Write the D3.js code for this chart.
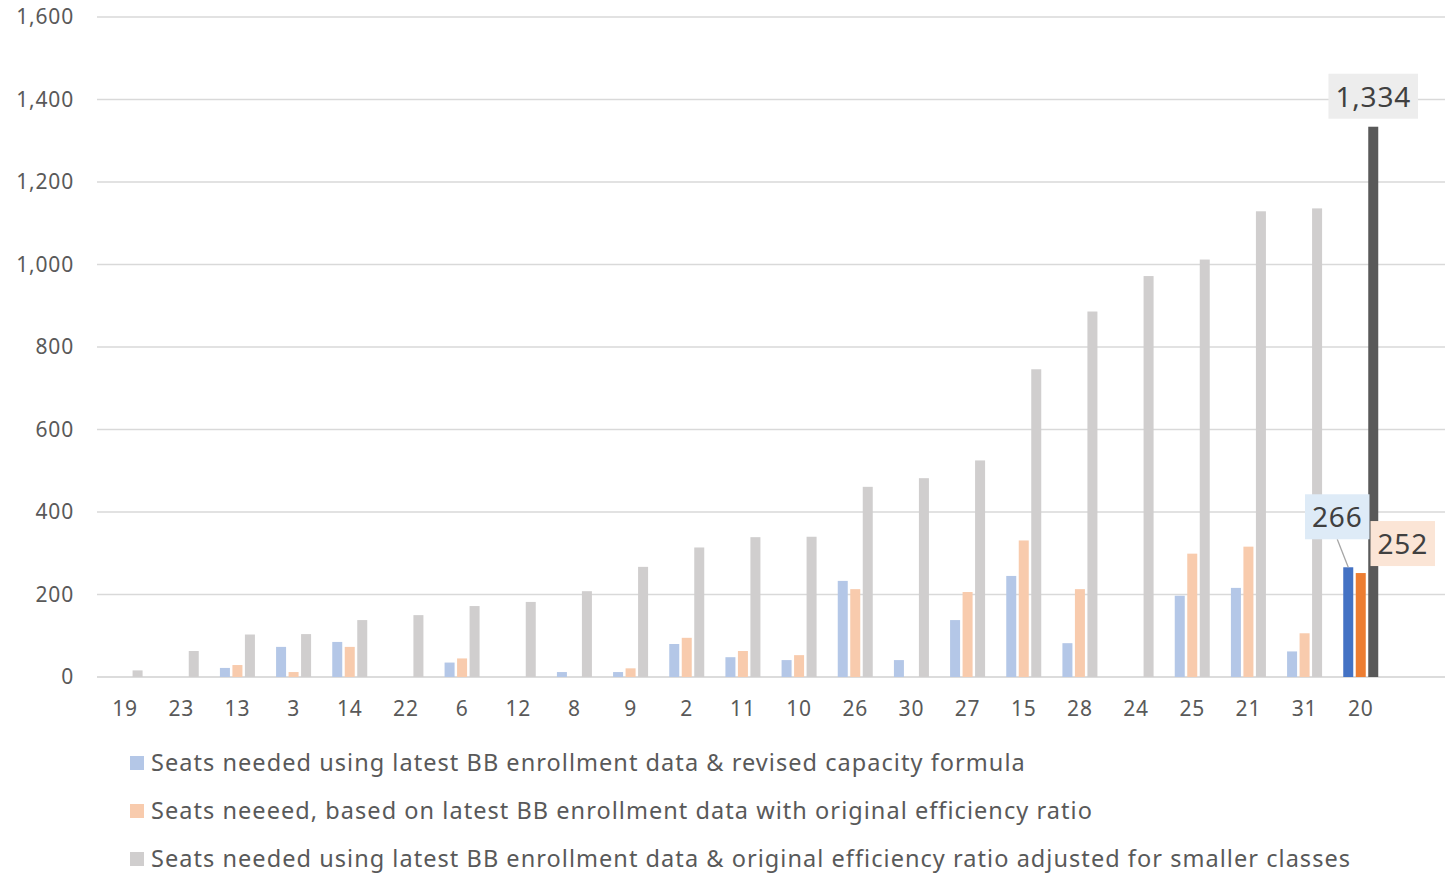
<!DOCTYPE html>
<html><head><meta charset="utf-8">
<script src="https://cdn.jsdelivr.net/npm/d3@7"></script>
<style>body{margin:0;background:#fff;} svg{display:block;}</style>
</head><body>
<script>
const categories = ["19","23","13","3","14","22","6","12","8","9","2","11","10","26","30","27","15","28","24","25","21","31","20",""];
const revised   = [0,0,22,73,85,0,35,0,12,12,80,48,41,233,41,138,245,82,0,197,216,62,266,null];
const original  = [0,0,29,12,73,0,45,0,0,21,95,63,53,213,0,206,331,213,0,299,316,106,252,null];
const adjusted  = [16,63,103,104,138,150,172,182,208,267,314,339,340,461,482,525,746,886,972,1012,1129,1136,1334,null];
const seriesNames = [
  "Seats needed using latest BB enrollment data & revised capacity formula",
  "Seats neeeed, based on latest BB enrollment data with original efficiency ratio",
  "Seats needed using latest BB enrollment data & original efficiency ratio adjusted for smaller classes"
];
const yTicks = [0,200,400,600,800,1000,1200,1400,1600];
const highlightCategory = "20";

const lightColors = ["#B4C7E7","#F8CBAD","#D0CECE"];
const darkColors  = ["#4472C4","#ED7D31","#595959"];
const labelBg     = ["#DEEBF7","#FBE5D6","#EDEDED"];
const FONT = "'Noto Sans', 'Open Sans', sans-serif";

const W = 1455, H = 873;
const svg = d3.select("body").append("svg").attr("width", W).attr("height", H);
const pL = 97, pR = 1445, pT = 17, pB = 677;

const x = d3.scaleBand().domain(categories).range([pL, pR]).padding(0);
const xs = d3.scaleBand().domain([0,1,2]).range([-17.5, 17.5]).paddingInner(0.2).paddingOuter(0);
const y = d3.scaleLinear().domain([0,1600]).range([pB, pT]);

// gridlines
svg.append("g").selectAll("line").data(yTicks).join("line")
  .attr("x1", pL).attr("x2", pR)
  .attr("y1", d => y(d)).attr("y2", d => y(d))
  .attr("stroke", d => d === 0 ? "#D0D0D0" : "#D9D9D9").attr("stroke-width", d => d===0 ? 1.5 : 1.3);

// y axis labels
const yAxis = d3.axisLeft(y).tickValues(yTicks).tickFormat(d3.format(",")).tickSize(0).tickPadding(0);
const ga = svg.append("g").attr("transform", `translate(74,0)`).call(yAxis);
ga.select(".domain").remove();
ga.selectAll("text").attr("font-family", FONT).attr("font-size", 21).attr("letter-spacing", 0.8).attr("fill", "#595959");

// x axis labels
const xAxis = d3.axisBottom(x).tickSize(0).tickPadding(0);
const gx = svg.append("g").attr("transform", `translate(0,701)`).call(xAxis);
gx.select(".domain").remove();
gx.selectAll("text").attr("font-family", FONT).attr("font-size", 21).attr("letter-spacing", 0.8).attr("fill", "#595959");

// bars
const seriesData = [revised, original, adjusted];
seriesData.forEach((vals, si) => {
  const data = categories.map((c, i) => ({c, v: vals[i], s: si})).filter(d => d.v);
  svg.append("g").selectAll("rect").data(data).join("rect")
    .attr("x", d => x(d.c) + x.bandwidth()/2 + xs(d.s))
    .attr("width", xs.bandwidth())
    .attr("y", d => y(d.v))
    .attr("height", d => y(0) - y(d.v))
    .attr("fill", d => d.c === highlightCategory ? darkColors[si] : lightColors[si]);
});

// data labels for highlight category
const hi = categories.indexOf(highlightCategory);
const cx = s => x(highlightCategory) + x.bandwidth()/2 + xs(s) + xs.bandwidth()/2;
const labels = [
  {s:0, v: revised[hi], dx: -11, gapBottom: 28, leader: true},
  {s:1, v: original[hi], dx: 42, gapBottom: 7, leader: false},
  {s:2, v: adjusted[hi], dx: 0, gapBottom: 8, leader: false}
];
const lg = svg.append("g");
labels.forEach(l => {
  const txt = d3.format(",")(l.v);
  const bx = cx(l.s) + l.dx;
  const by = y(l.v) - l.gapBottom; // bottom of box
  const t = lg.append("text").text(txt).attr("font-family", FONT).attr("font-size", 28)
    .attr("letter-spacing", 0.8)
    .attr("fill", "#404040").attr("text-anchor", "middle")
    .attr("x", bx).attr("y", by - 12);
  const bb = t.node().getBBox();
  const bw = bb.width + 14, bh = 45;
  if (l.leader) {
    lg.insert("line", "text").attr("x1", bx).attr("y1", by).attr("x2", cx(l.s)).attr("y2", y(l.v))
      .attr("stroke", "#A6A6A6").attr("stroke-width", 1.3);
  }
  lg.insert("rect", "text").attr("x", bx - bw/2).attr("y", by - bh).attr("width", bw).attr("height", bh)
    .attr("fill", labelBg[l.s]);
});

// legend
const leg = svg.append("g");
seriesNames.forEach((n, i) => {
  const yy = 763 + i*48;
  leg.append("rect").attr("x", 130).attr("y", yy - 7).attr("width", 14).attr("height", 14).attr("fill", lightColors[i]);
  leg.append("text").attr("x", 151).attr("y", yy + 8).text(n)
    .attr("font-family", FONT).attr("font-size", 23.5).attr("letter-spacing", 1.05).attr("fill", "#595959");
});
</script>
</body></html>
